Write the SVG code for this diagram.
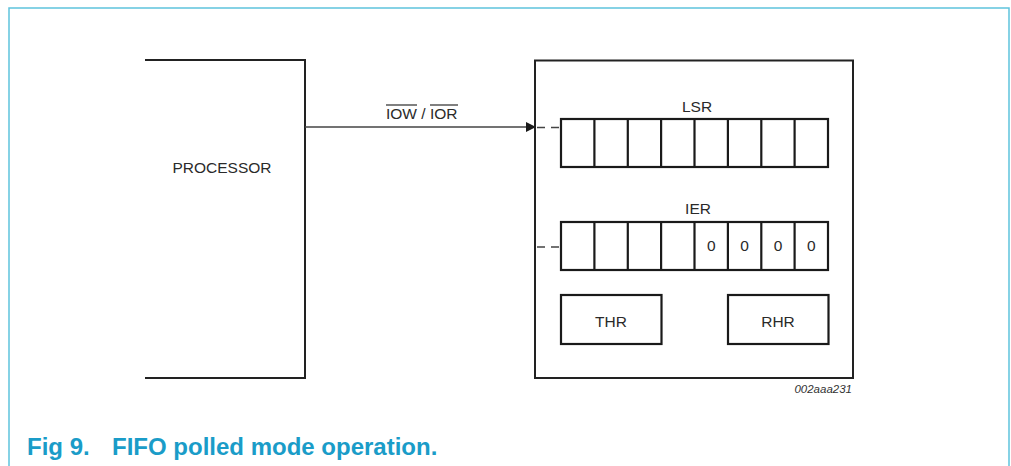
<svg xmlns="http://www.w3.org/2000/svg" width="1011" height="466" viewBox="0 0 1011 466">
<style>
.t{font-family:"Liberation Sans",Arial,sans-serif;font-size:15.5px;fill:#2a2a2a}
.box{fill:none;stroke:#222;stroke-width:2}
.reg{fill:#fff;stroke:#1a1a1a;stroke-width:2.2}
.dash{stroke:#444;stroke-width:1.5;stroke-dasharray:8,6;fill:none}
.cap{font-family:"Liberation Sans",Arial,sans-serif;font-weight:bold;font-size:24px;fill:#1a9cc8}
</style>
<defs>
<marker id="arr" markerWidth="10" markerHeight="10" refX="9" refY="5" orient="auto" markerUnits="userSpaceOnUse">
<path d="M0,0 L10,5 L0,10 Z" fill="#1a1a1a"/>
</marker>
</defs>
<rect width="1011" height="466" fill="#fff"/>
<path d="M9,470 V8 H1009 V470" fill="none" stroke="#5fc3dd" stroke-width="1.5"/>

<g id="processor">
<path class="box" d="M145,60 H305 V378 H145"/>
<text class="t" x="222" y="173" text-anchor="middle">PROCESSOR</text>
</g>

<g id="uart">
<rect class="box" x="535" y="60.5" width="318" height="317.5"/>
</g>

<g id="lsr">
<text class="t" x="697" y="112" text-anchor="middle">LSR</text>
<rect class="reg" x="561" y="119" width="267" height="48"/>
<path class="reg" d="M594.4,119V167M627.8,119V167M661.1,119V167M694.5,119V167M727.9,119V167M761.3,119V167M794.6,119V167"/>
</g>

<g id="ier">
<text class="t" x="698" y="214" text-anchor="middle">IER</text>
<rect class="reg" x="561" y="222" width="267" height="48"/>
<path class="reg" d="M594.4,222V270M627.8,222V270M661.1,222V270M694.5,222V270M727.9,222V270M761.3,222V270M794.6,222V270"/>
<text class="t" x="711.2" y="251" text-anchor="middle">0</text>
<text class="t" x="744.6" y="251" text-anchor="middle">0</text>
<text class="t" x="778" y="251" text-anchor="middle">0</text>
<text class="t" x="811.3" y="251" text-anchor="middle">0</text>
</g>

<g id="thr">
<rect class="reg" x="561" y="295" width="100.5" height="49"/>
<text class="t" x="611" y="327" text-anchor="middle">THR</text>
</g>

<g id="rhr">
<rect class="reg" x="728" y="295" width="100.5" height="49"/>
<text class="t" x="778" y="327" text-anchor="middle">RHR</text>
</g>

<g id="connectors">
<line x1="305" y1="127" x2="535" y2="127" stroke="#444" stroke-width="1.5" marker-end="url(#arr)"/>
<text class="t" x="386" y="119">IOW / IOR</text>
<line x1="386" y1="105" x2="417" y2="105" stroke="#2a2a2a" stroke-width="1.2"/>
<line x1="430" y1="105" x2="458" y2="105" stroke="#2a2a2a" stroke-width="1.2"/>
<line class="dash" x1="537" y1="127.5" x2="561" y2="127.5"/>
<line class="dash" x1="537" y1="247" x2="561" y2="247"/>
</g>

<text x="852" y="393" text-anchor="end" font-family="'Liberation Sans',Arial,sans-serif" font-style="italic" font-size="11.5" fill="#333">002aaa231</text>

<text class="cap" x="27" y="455">Fig 9.</text>
<text class="cap" x="112" y="455">FIFO polled mode operation.</text>
</svg>
